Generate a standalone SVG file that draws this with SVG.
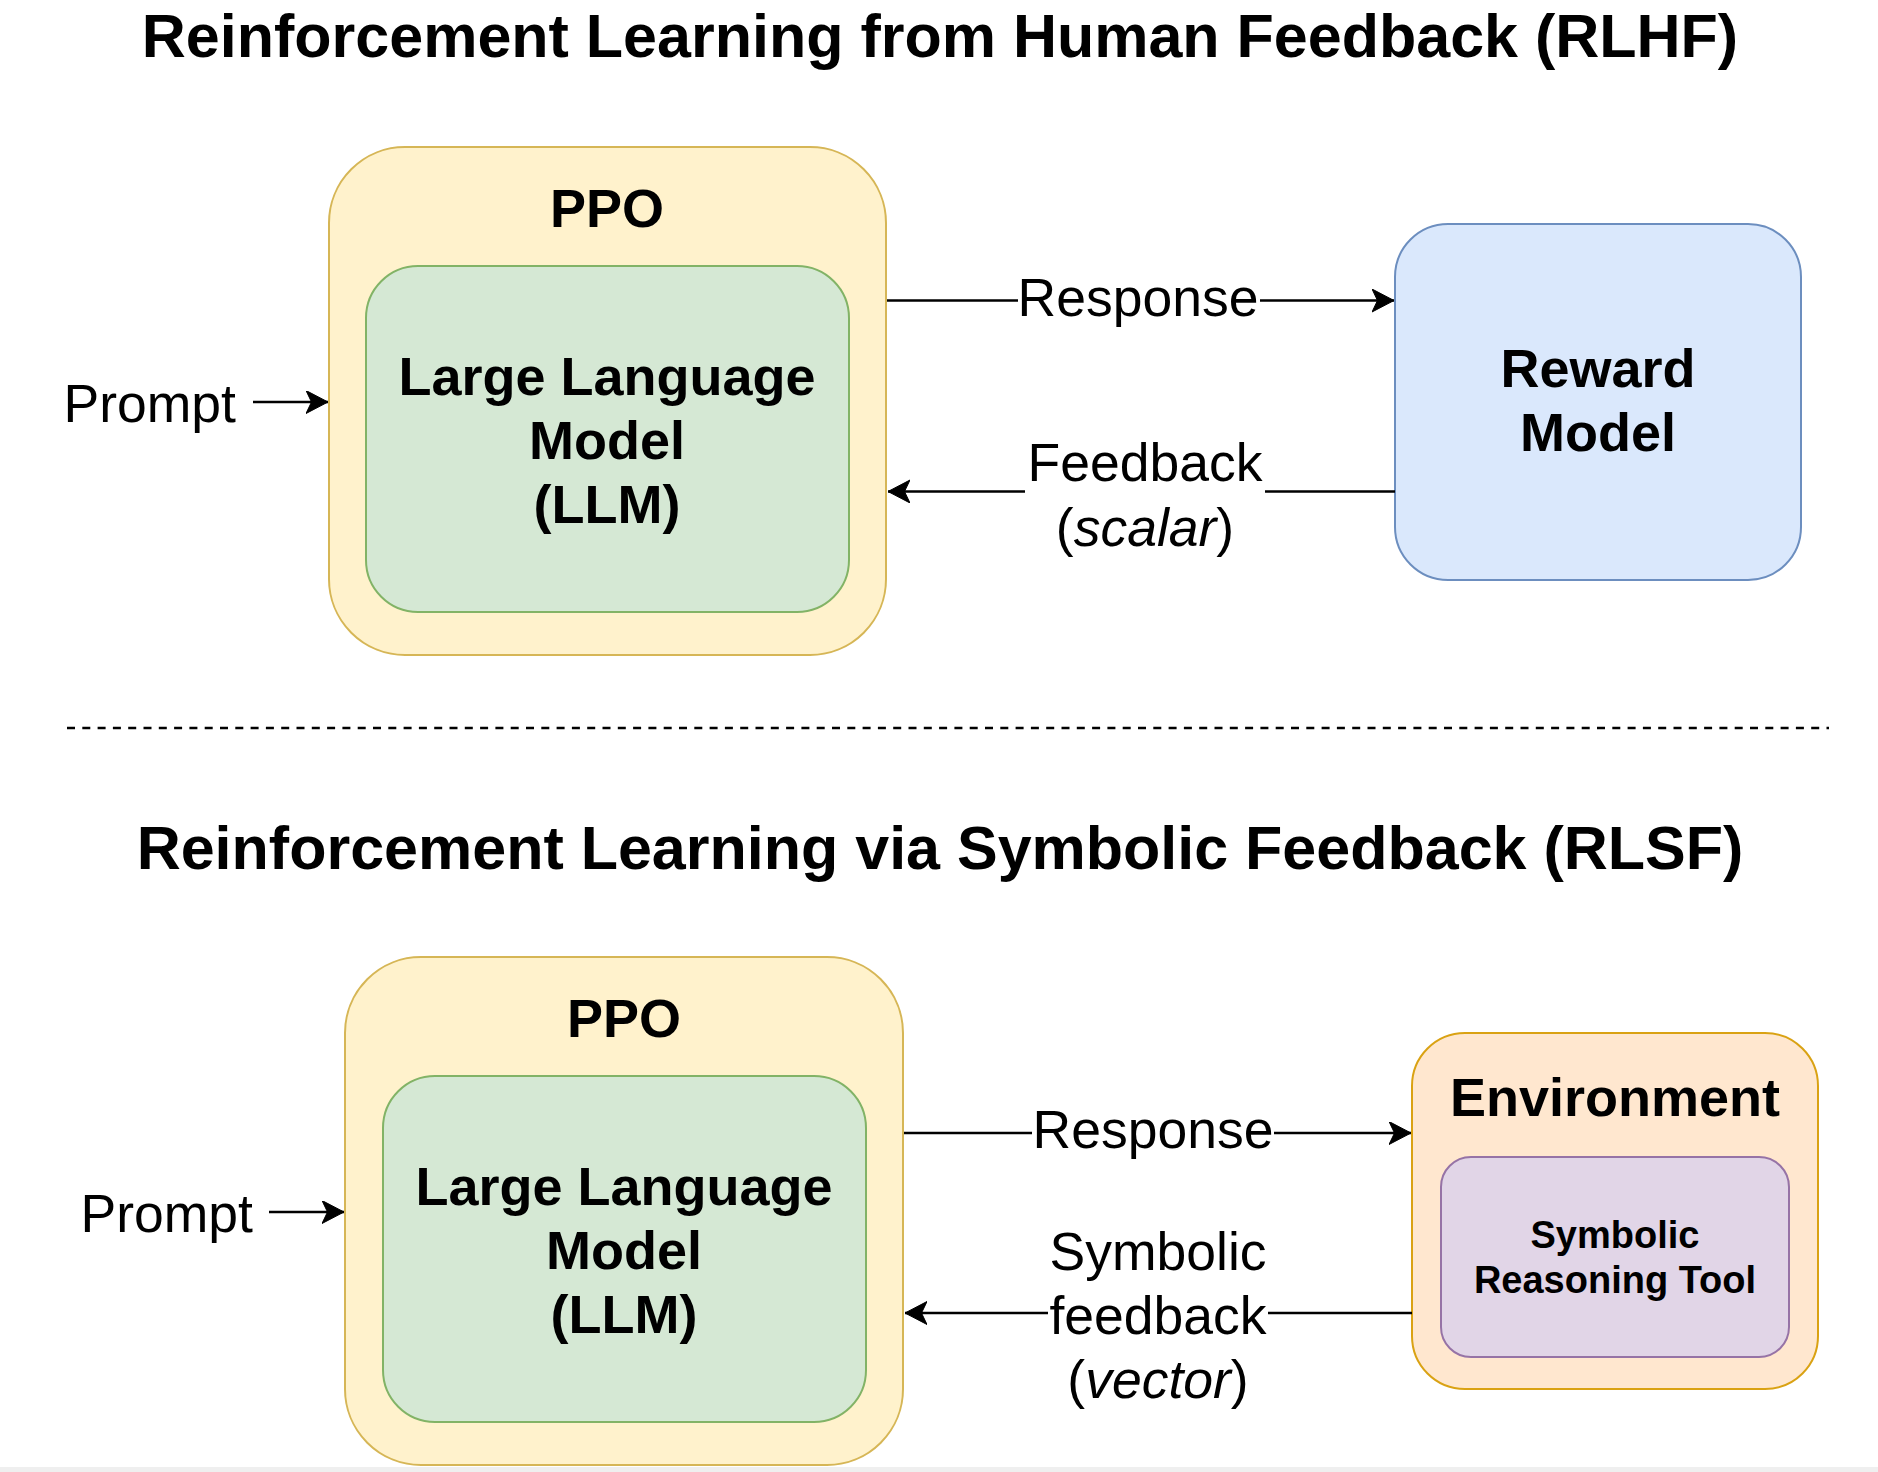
<svg xmlns="http://www.w3.org/2000/svg" width="1878" height="1472" viewBox="0 0 1878 1472">
  <defs>
    <marker id="arrow" markerUnits="userSpaceOnUse" markerWidth="24" markerHeight="24" refX="22" refY="11.5" orient="auto">
      <path d="M22,11.5 L0,0 L5.5,11.5 L0,23 Z" fill="#000" stroke="#000" stroke-width="1"/>
    </marker>
    <style>
      text { font-family: "Liberation Sans", Arial, Helvetica, sans-serif; fill: #000; }
      .title { font-size: 61px; font-weight: bold; text-anchor: middle; }
      .big { font-size: 54px; font-weight: bold; text-anchor: middle; }
      .small { font-size: 38px; font-weight: bold; text-anchor: middle; }
      .lbl { font-size: 53.5px; text-anchor: middle; }
      .ppo { fill: #fff2cc; stroke: #d6b656; stroke-width: 2; }
      .llm { fill: #d5e8d4; stroke: #82b366; stroke-width: 2; }
      .rm { fill: #dae8fc; stroke: #6c8ebf; stroke-width: 2; }
      .env { fill: #ffe6cc; stroke: #d79b00; stroke-width: 2; opacity: 0.92; }
      .srt { fill: #e1d5e7; stroke: #9673a6; stroke-width: 2; }
      .edge { fill: none; stroke: #000; stroke-width: 2.4; marker-end: url(#arrow); }
      .bg { fill: #ffffff; }
    </style>
  </defs>
  <rect x="0" y="0" width="1878" height="1472" fill="#ffffff"/>
  <rect x="0" y="1467" width="1878" height="5" fill="#efefef"/>

  <text class="title" x="940" y="57">Reinforcement Learning from Human Feedback (RLHF)</text>
  <text class="title" x="940" y="869">Reinforcement Learning via Symbolic Feedback (RLSF)</text>

  <line x1="67" y1="728" x2="1829" y2="728" stroke="#000" stroke-width="2.5" stroke-dasharray="8 7.3"/>

  <!-- Top section -->
  <g id="ppo-top">
    <rect class="ppo" x="329" y="147" width="557" height="508" rx="76" ry="76"/>
    <text class="big" x="607" y="227">PPO</text>
  </g>
  <g id="llm-top">
    <rect class="llm" x="366" y="266" width="483" height="346" rx="52" ry="52"/>
    <text class="big" x="607" y="395">Large Language</text>
    <text class="big" x="607" y="459">Model</text>
    <text class="big" x="607" y="523">(LLM)</text>
  </g>
  <g id="reward-model">
    <rect class="rm" x="1395" y="224" width="406" height="356" rx="53" ry="53"/>
    <text class="big" x="1598" y="387">Reward</text>
    <text class="big" x="1598" y="451">Model</text>
  </g>

  <!-- Bottom section -->
  <g id="ppo-bottom">
    <rect class="ppo" x="345" y="957" width="558" height="508" rx="76" ry="76"/>
    <text class="big" x="624" y="1037">PPO</text>
  </g>
  <g id="llm-bottom">
    <rect class="llm" x="383" y="1076" width="483" height="346" rx="52" ry="52"/>
    <text class="big" x="624" y="1205">Large Language</text>
    <text class="big" x="624" y="1269">Model</text>
    <text class="big" x="624" y="1333">(LLM)</text>
  </g>
  <g id="environment">
    <rect class="env" x="1412" y="1033" width="406" height="356" rx="53" ry="53"/>
    <text class="big" x="1615" y="1116">Environment</text>
  </g>
  <g id="symbolic-tool">
    <rect class="srt" x="1441" y="1157" width="348" height="200" rx="30" ry="30"/>
    <text class="small" x="1615" y="1248">Symbolic</text>
    <text class="small" x="1615" y="1293">Reasoning Tool</text>
  </g>

  <g id="connectors">
    <path class="edge" d="M253,402 H328"/>
    <path class="edge" d="M887,300.5 H1394"/>
    <path class="edge" d="M1395,491.5 H888"/>
    <path class="edge" d="M269,1212 H344"/>
    <path class="edge" d="M904,1133 H1411"/>
    <path class="edge" d="M1412,1313 H905"/>

    <text class="lbl" x="236" y="422" style="text-anchor:end">Prompt</text>
    <text class="lbl" x="253" y="1232" style="text-anchor:end">Prompt</text>

    <rect class="bg" x="1018" y="286" width="242" height="30"/>
    <text class="lbl" x="1138" y="316">Response</text>

    <rect class="bg" x="1025" y="478" width="240" height="28"/>
    <text class="lbl" x="1145" y="481">Feedback</text>
    <text class="lbl" x="1145" y="546">(<tspan font-style="italic">scalar</tspan>)</text>

    <rect class="bg" x="1032" y="1119" width="242" height="28"/>
    <text class="lbl" x="1153" y="1148">Response</text>

    <rect class="bg" x="1048" y="1299" width="220" height="28"/>
    <text class="lbl" x="1158" y="1270">Symbolic</text>
    <text class="lbl" x="1158" y="1334">feedback</text>
    <text class="lbl" x="1158" y="1398">(<tspan font-style="italic">vector</tspan>)</text>
  </g>
</svg>
